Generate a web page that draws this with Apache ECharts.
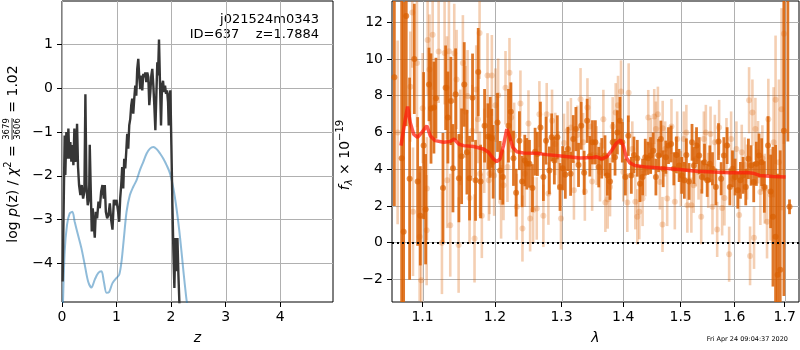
<!DOCTYPE html>
<html><head><meta charset="utf-8">
<script src="https://cdn.jsdelivr.net/npm/echarts@6/dist/echarts.min.js"></script>
<style>html,body{margin:0;padding:0;background:#fff}#c{width:800px;height:350px}</style>
</head><body><div id="c"></div><script>
// ---------- left panel: log p(z) ----------
const zTicks = [0, 1, 2, 3, 4];
const logpTicks = [-4, -3, -2, -1, 0, 1];
const zDark = [0.012,0.031,0.049,0.061,0.080,0.098,0.117,0.135,0.153,0.172,0.190,0.209,0.227,0.245,0.264,0.276,0.294,0.313,0.337,0.362,0.387,0.411,0.429,0.448,0.472,0.497,0.509,0.528,0.546,0.564,0.583,0.601,0.620,0.644,0.669,0.693,0.718,0.742,0.767,0.785,0.804,0.828,0.853,0.877,0.902,0.926,0.951,0.975,1.000,1.025,1.049,1.067,1.086,1.104,1.123,1.141,1.160,1.178,1.196,1.215,1.233,1.252,1.270,1.288,1.307,1.325,1.344,1.362,1.380,1.399,1.417,1.436,1.454,1.472,1.491,1.509,1.528,1.546,1.564,1.583,1.601,1.620,1.638,1.656,1.675,1.693,1.712,1.730,1.748,1.761,1.779,1.798,1.816,1.834,1.853,1.871,1.890,1.908,1.926,1.945,1.957,1.969,1.988,2.006,2.025,2.043,2.061,2.080,2.098,2.117,2.135,2.153,2.175];
const logpDark = [-4.41,-2.67,-1.08,-1.98,-1.00,-1.61,-0.92,-1.61,-1.23,-1.68,-1.30,-1.76,-0.92,-1.68,-1.45,-0.81,-1.80,-2.21,-2.44,-2.21,-2.52,-2.36,-0.14,-2.21,-2.67,-2.52,-1.29,-2.36,-3.27,-2.74,-3.12,-3.41,-2.82,-2.97,-2.59,-2.74,-2.36,-2.21,-2.52,-2.21,-2.82,-2.97,-2.89,-2.63,-3.01,-3.23,-2.55,-2.67,-2.55,-2.78,-3.05,-2.52,-2.21,-1.80,-2.29,-1.61,-1.83,-1.45,-1.04,-1.38,-0.85,-0.70,-0.39,-0.24,-0.58,-0.24,0.06,-0.17,0.44,0.67,0.25,-0.02,0.29,-0.05,0.33,0.25,0.36,0.14,0.36,0.25,-0.39,-0.09,0.29,0.44,0.06,-0.39,-0.96,-0.17,0.59,0.29,1.11,0.06,-0.85,0.06,0.17,-0.09,0.06,-0.13,-0.05,-0.32,-0.85,-0.17,-0.05,-1.30,-2.67,-3.73,-4.56,-3.42,-4.18,-3.42,-4.26,-4.90,-5.6];
const zBlue = [0.005,0.018,0.049,0.092,0.141,0.190,0.233,0.294,0.356,0.417,0.479,0.540,0.601,0.663,0.724,0.767,0.816,0.865,0.926,1.000,1.049,1.092,1.135,1.184,1.245,1.307,1.368,1.429,1.491,1.552,1.613,1.675,1.736,1.798,1.859,1.920,1.982,2.043,2.104,2.166,2.227,2.276,2.301,2.33];
const logpBlue = [-5.6,-4.90,-3.73,-3.12,-2.86,-2.82,-3.05,-3.35,-3.65,-4.03,-4.41,-4.55,-4.37,-4.22,-4.18,-4.41,-4.67,-4.65,-4.45,-4.33,-4.26,-3.95,-3.42,-2.82,-2.44,-2.25,-2.10,-1.87,-1.68,-1.49,-1.38,-1.34,-1.39,-1.49,-1.61,-1.76,-1.95,-2.29,-2.78,-3.42,-4.18,-4.75,-5.0,-5.4];

// ---------- right panel: spectrum ----------
const lamTicks = [1.1, 1.2, 1.3, 1.4, 1.5, 1.6, 1.7];
const fTicks = [-2, 0, 2, 4, 6, 8, 10, 12];
const lamModel = [1.0718,1.0774,1.0804,1.0838,1.0882,1.0934,1.0991,1.1057,1.1102,1.1168,1.1281,1.1371,1.1426,1.1486,1.1555,1.1694,1.1835,1.1907,1.1978,1.2026,1.2074,1.2123,1.2172,1.2210,1.2259,1.2318,1.2417,1.2617,1.2770,1.3028,1.3291,1.3505,1.3559,1.3641,1.3723,1.3806,1.3889,1.3956,1.4001,1.4057,1.4113,1.4198,1.4398,1.4689,1.4985,1.5288,1.5597,1.5912,1.6234,1.6364,1.6495,1.6761,1.7018];
const fModel = [5.28,6.72,7.41,6.54,5.91,5.73,6.00,6.36,5.82,5.55,5.46,5.50,5.64,5.37,5.28,5.23,5.10,4.92,4.56,4.41,4.56,5.28,6.18,5.82,5.19,4.95,4.88,4.86,4.79,4.70,4.61,4.63,4.67,4.56,4.67,5.01,5.42,5.59,5.28,4.59,4.34,4.20,4.11,4.05,3.98,3.89,3.84,3.80,3.82,3.78,3.66,3.60,3.57];

// dark (strong) spectrum points
const lamA = [1.0633,1.0727,1.0752,1.0786,1.0830,1.0891,1.0935,1.0970,1.1014,1.1040,1.1085,1.1112,1.1151,1.1178,1.1273,1.1309,1.1340,1.1381,1.1409,1.1446,1.1491,1.1528,1.1565,1.1602,1.1639,1.1681,1.1723,1.1761,1.1794,1.1851,1.1898,1.1932,1.1974,
1.1955,1.2037,1.2075,1.2114,1.2196,1.2231,1.2270,1.2309,1.2358,1.2398,1.2438,1.2468,1.2508,1.2553,1.2593,1.2628,1.2674,1.2719,1.2760,1.2811,1.2847,1.2888,1.2934,1.2976,1.3017,1.3059,1.3100,1.3142,1.3184,1.3226,1.3268,1.3311,1.3358,1.3406,1.3449,1.3492,
1.3539,1.3594,1.3643,1.3697,1.3736,1.3780,1.3824,1.3863,1.3902,1.3946,1.3985,1.4036,1.4086,1.4137,1.4182,1.4239,1.4285,1.4330,1.4376,1.4422,1.4468,1.4514,1.4561,1.4607,1.4649,1.4689,1.4736,1.4783,1.4830,1.4878,1.4925,1.4973,1.5020,1.5068,1.5104,1.5153,1.5207,
1.5241,1.5290,1.5339,1.5388,1.5437,1.5487,1.5536,1.5586,1.5649,1.5699,1.5749,1.5800,1.5863,1.5914,1.5965,1.6016,1.6067,1.6118,1.6170,1.6222,1.6274,1.6326,1.6378,1.6430,1.6483,1.6535,1.6588,1.6662,1.6714,1.6761,1.6814,1.6855,1.6908,1.6983,1.7064,1.7098];
const fA = [9.0,4.59,0.59,12.34,3.48,10.0,3.33,1.46,5.28,1.82,8.61,7.30,7.35,7.86,2.97,8.43,6.81,7.71,4.05,8.07,3.51,4.70,8.61,4.92,3.51,7.89,3.39,9.28,3.33,6.36,5.78,5.73,4.40,
5.68,6.54,3.93,3.57,6.36,7.12,4.59,2.72,5.55,3.33,4.47,4.29,4.29,2.97,4.95,4.83,6.27,3.57,5.55,3.93,5.73,4.47,5.73,3.03,4.05,3.69,5.10,3.75,5.64,6.18,4.23,6.36,3.80,6.63,4.70,5.46,
5.46,4.11,4.59,4.74,3.66,3.33,5.46,4.65,6.00,6.63,5.46,3.57,5.82,3.66,4.77,4.59,3.21,3.57,4.65,4.59,4.74,5.00,3.57,4.74,5.64,4.02,4.65,5.28,5.37,4.02,4.77,4.20,3.66,3.39,4.77,3.33,5.46,
4.20,5.28,4.74,3.57,4.38,3.39,4.29,4.02,3.03,5.50,3.48,4.74,5.28,3.03,4.02,3.57,2.85,3.39,3.66,3.03,4.56,4.20,3.30,4.29,4.74,4.38,3.03,5.28,2.79,1.41,0.32,-1.75,-1.48,6.09,16.0,1.95];
const eA = [7.0,9.0,12.5,6.0,5.5,3.0,3.5,2.7,4.0,3.0,2.0,3.0,2.5,2.2,3.0,2.3,2.5,2.4,2.4,2.5,2.4,2.6,2.3,2.3,2.3,2.4,2.2,2.4,2.0,2.0,1.8,2.2,2.0,
1.6,1.6,1.6,1.5,2.0,1.6,1.5,1.3,1.6,1.4,1.4,1.4,1.3,1.3,1.3,1.2,1.4,1.3,1.3,1.3,1.3,1.3,1.2,1.3,1.2,1.3,1.2,1.2,1.3,1.2,1.2,1.3,1.2,1.2,1.1,1.2,
1.2,1.1,1.1,1.1,1.1,1.0,1.1,1.0,1.2,1.3,1.1,1.0,1.1,1.0,1.0,1.0,1.0,1.0,1.0,0.9,1.0,1.0,1.0,0.9,1.0,1.0,0.9,1.0,1.0,0.9,1.0,0.9,1.0,1.0,0.9,1.0,1.0,
1.0,1.0,1.0,0.9,1.0,0.9,1.0,0.9,1.0,1.0,0.9,1.0,1.0,1.0,1.0,1.0,1.0,1.0,1.0,1.0,1.1,1.1,1.1,1.2,1.2,1.3,1.4,1.6,2.0,3.8,5.0,5.5,6.5,9.0,10.5,0.4];

// light (faint) spectrum points
const lamB = [1.0675,1.0839,1.0865,1.0874,1.0926,1.0961,1.0983,1.1001,1.1054,1.1058,1.1067,1.1092,1.1134,1.1214,1.1259,1.1295,1.1327,1.1330,1.1354,1.1372,1.1427,1.1459,1.1487,1.1509,1.1546,1.1583,1.1611,1.1639,1.1677,1.1709,1.1733,1.1756,1.1780,1.1785,1.1812,1.1846,1.1893,1.1912,1.1922,1.1955,1.1988,
1.2007,1.2046,1.2089,1.2124,1.2153,1.2182,1.2211,1.2235,1.2280,1.2319,1.2373,1.2403,1.2438,1.2493,1.2518,1.2563,1.2618,1.2658,1.2719,1.2770,1.2796,1.2852,1.2903,1.2950,1.2991,1.3038,1.3095,1.3147,1.3195,1.3247,1.3300,1.3342,1.3369,1.3411,1.3449,1.3487,
1.3561,1.3615,1.3670,1.3703,1.3741,1.3780,1.3824,1.3874,1.3913,1.3963,1.4002,1.4069,1.4092,1.4154,1.4205,1.4239,1.4273,1.4330,1.4376,1.4428,1.4474,1.4532,1.4561,1.4596,1.4631,1.4677,1.4680,1.4724,1.4760,1.4836,1.4896,1.4938,1.5004,1.5057,1.5104,1.5122,1.5195,1.5237,
1.5278,1.5327,1.5376,1.5425,1.5462,1.5506,1.5549,1.5586,1.5630,1.5674,1.5711,1.5768,1.5812,1.5850,1.5901,1.5939,1.5978,1.6041,1.6093,1.6144,1.6202,1.6248,1.6287,1.6306,1.6352,1.6384,1.6411,1.6463,1.6509,1.6549,1.6595,1.6642,1.6668,1.6714,1.6774,1.6814,1.6881,1.6935,1.6983];
const fB = [6.0,8.49,12.52,1.68,9.78,0.32,-2.05,7.32,0.68,2.94,11.03,9.42,11.32,10.40,0.00,10.32,8.43,3.39,10.41,0.95,10.30,8.88,-0.13,5.73,9.78,7.12,7.98,2.43,6.09,0.23,8.34,6.72,11.41,3.75,1.46,5.00,9.10,3.39,3.75,9.10,3.66,
7.48,8.02,2.22,3.12,8.43,4.11,9.24,6.81,5.82,1.95,7.57,0.77,3.75,6.49,1.32,1.77,1.86,6.99,1.46,6.99,2.67,6.63,5.37,4.47,1.32,5.42,6.09,6.27,2.85,5.86,7.80,5.46,2.79,7.35,6.32,3.33,
4.74,3.84,6.72,2.18,2.36,3.03,6.32,7.08,7.48,8.22,3.84,2.18,8.16,5.10,2.22,1.41,1.68,2.40,4.02,6.81,5.28,6.86,6.18,6.99,3.30,0.99,6.22,5.10,2.40,6.32,2.22,5.64,3.48,5.64,6.00,2.04,2.04,3.12,
4.56,3.84,1.41,5.64,6.00,3.39,5.91,1.95,5.46,0.72,6.27,1.89,2.43,5.28,-0.63,5.64,3.48,5.10,1.50,4.92,4.23,3.84,7.75,-0.72,7.08,0.27,6.18,4.92,2.76,4.59,2.94,1.14,6.72,2.61,5.46,7.77,4.38,7.26,11.37];
const eB = [5.0,3.0,3.0,3.5,3.5,3.5,3.5,3.0,3.0,2.8,3.0,3.0,3.0,2.8,2.8,2.8,2.8,2.6,2.8,2.8,2.7,2.7,2.6,2.6,2.6,2.5,2.5,2.5,2.5,2.4,2.4,2.4,2.5,2.3,2.3,2.3,2.3,2.2,2.2,2.2,2.2,
2.0,2.0,2.0,1.9,2.0,1.9,1.9,1.9,1.8,1.8,1.8,1.8,1.8,1.8,1.8,1.8,1.7,1.8,1.7,1.7,1.7,1.7,1.7,1.6,1.7,1.6,1.6,1.6,1.6,1.6,1.7,1.6,1.6,1.6,1.6,1.6,
1.6,1.6,1.6,1.6,1.6,1.6,1.6,1.6,1.6,1.7,1.6,1.6,1.6,1.5,1.5,1.5,1.5,1.5,1.5,1.5,1.5,1.5,1.5,1.5,1.5,1.5,1.5,1.5,1.5,1.5,1.5,1.5,1.5,1.5,1.5,1.5,1.5,1.5,
1.5,1.5,1.5,1.5,1.5,1.5,1.5,1.5,1.5,1.5,1.5,1.5,1.5,1.5,1.5,1.5,1.5,1.5,1.5,1.5,1.5,1.5,1.8,1.6,1.8,1.7,1.7,1.7,1.8,1.8,1.9,2.0,2.2,2.5,3.0,3.5,4.5,5.5,6.0];

// ---------- axis ranges ----------
const Z_RANGE = [0, 4.97];
const LOGP_RANGE = [-4.88, 1.99];
const LAM_RANGE = [1.0603, 1.7294];
const F_RANGE = [-3.23, 13.15];

// ---------- helpers ----------
const FONT = '"DejaVu Sans", sans-serif';
const ctx = document.createElement('canvas').getContext('2d');
function fontStr(size, it) { return (it ? 'italic ' : '') + size + 'px ' + FONT; }
function measure(t, size, it) { ctx.font = fontStr(size, it); return ctx.measureText(t).width; }
function rotatedLabel(cx, cy, pieces) {
  const widths = pieces.map(p => p.num ? Math.max(measure(p.num, p.size), measure(p.den, p.size)) + 2 : measure(p.t, p.size, p.it));
  const W = widths.reduce((a, b) => a + b, 0);
  let x = -W / 2; const children = [];
  pieces.forEach((p, i) => {
    const w = widths[i];
    if (p.num) {
      const mx = x + w / 2;
      children.push({type: 'text', x: mx, y: p.axis - 0.8, style: {text: p.num, font: fontStr(p.size), fill: '#000', align: 'center', verticalAlign: 'bottom', textAlign: 'center', textVerticalAlign: 'bottom'}});
      children.push({type: 'line', shape: {x1: x + 1, y1: p.axis, x2: x + w - 1, y2: p.axis}, style: {stroke: '#000', lineWidth: 0.8}});
      children.push({type: 'text', x: mx, y: p.axis + 0.8, style: {text: p.den, font: fontStr(p.size), fill: '#000', align: 'center', verticalAlign: 'top', textAlign: 'center', textVerticalAlign: 'top'}});
    } else {
      children.push({type: 'text', x: x, y: p.dy || 0, style: {text: p.t, font: fontStr(p.size, p.it), fill: '#000', align: 'left', verticalAlign: 'middle', textAlign: 'left', textVerticalAlign: 'middle'}});
    }
    x += w;
  });
  return {type: 'group', x: cx, y: cy, rotation: Math.PI / 2, children: children};
}
function minusFmt(v) { return v < 0 ? '\u2212' + (-v) : String(v); }
function barRenderer(color, width) {
  return function (params, api) {
    const x = api.value(0), y = api.value(1), e = api.value(2);
    const a = api.coord([x, y - e]), b = api.coord([x, y + e]);
    return {type: 'line', shape: {x1: a[0], y1: a[1], x2: b[0], y2: b[1]}, style: {stroke: color, lineWidth: width}};
  };
}
const DARK = 'rgba(217,95,2,0.85)';
const LIGHT = 'rgba(217,95,2,0.30)';
const GRIDCOL = '#b0b0b0';
const labelStyle = {color: '#000', fontSize: 14, fontFamily: FONT};
const tickStyle = {show: true, length: 5, inside: false, lineStyle: {color: '#000', width: 1}};
const gridLine = {show: true, lineStyle: {color: GRIDCOL, width: 1}};
const noLine = {show: false, onZero: false};

const lnTicks = lamTicks.map(v => Math.log(v));
const darkData = lamA.map((l, i) => [Math.log(l), fA[i], eA[i]]);
const lightData = lamB.map((l, i) => [Math.log(l), fB[i], eB[i]]);

// vertical grid lines at the x tick values, placed by the axis scale
function vGrid(xi, vals, yr) {
  return {type: 'custom', xAxisIndex: xi, yAxisIndex: xi, data: vals.map(v => [v, yr[0], yr[1]]), z: 1, silent: true, clip: false,
    renderItem: function (params, api) {
      const a = api.coord([api.value(0), api.value(1)]);
      const b = api.coord([api.value(0), api.value(2)]);
      const x = Math.round(a[0]) + 0.5;
      return {type: 'line', shape: {x1: x, y1: a[1], x2: x, y2: b[1]}, style: {stroke: GRIDCOL, lineWidth: 1}};
    }};
}

const option = {
  animation: false,
  backgroundColor: '#fff',
  grid: [
    {left: 62, top: 1, width: 271, height: 303, show: true, borderColor: '#000', borderWidth: 1, backgroundColor: 'transparent'},
    {left: 392, top: 1, width: 407, height: 303, show: true, borderColor: '#000', borderWidth: 1, backgroundColor: 'transparent'}
  ],
  xAxis: [
    {type: 'value', gridIndex: 0, min: Z_RANGE[0], max: Z_RANGE[1],
     axisLine: noLine, axisTick: Object.assign({customValues: zTicks}, tickStyle),
     axisLabel: Object.assign({customValues: zTicks, margin: 8}, labelStyle), splitLine: {show: false},
     name: 'z', nameLocation: 'middle', nameGap: 29, nameTextStyle: {fontSize: 14, fontStyle: 'italic', fontFamily: FONT, color: '#000'}},
    {type: 'value', gridIndex: 1, min: Math.log(LAM_RANGE[0]), max: Math.log(LAM_RANGE[1]),
     axisLine: noLine, axisTick: Object.assign({customValues: lnTicks}, tickStyle),
     axisLabel: Object.assign({customValues: lnTicks, margin: 8, formatter: v => Math.exp(v).toFixed(1)}, labelStyle), splitLine: {show: false},
     name: '\u03bb', nameLocation: 'middle', nameGap: 29, nameTextStyle: {fontSize: 14, fontStyle: 'italic', fontFamily: FONT, color: '#000'}}
  ],
  yAxis: [
    {type: 'value', gridIndex: 0, min: LOGP_RANGE[0], max: LOGP_RANGE[1],
     axisLine: noLine, axisTick: Object.assign({customValues: logpTicks}, tickStyle),
     axisLabel: Object.assign({customValues: logpTicks, margin: 9, formatter: minusFmt}, labelStyle), splitLine: gridLine},
    {type: 'value', gridIndex: 1, min: F_RANGE[0], max: F_RANGE[1],
     axisLine: noLine, axisTick: Object.assign({customValues: fTicks}, tickStyle),
     axisLabel: Object.assign({customValues: fTicks, margin: 9, formatter: minusFmt}, labelStyle), splitLine: gridLine}
  ],
  series: [
    vGrid(0, zTicks, LOGP_RANGE),
    vGrid(1, lnTicks, F_RANGE),
    {type: 'line', xAxisIndex: 0, yAxisIndex: 0, data: zBlue.map((z, i) => [z, logpBlue[i]]), showSymbol: false, smooth: 0.3,
     lineStyle: {color: 'rgba(31,119,180,0.5)', width: 2}, clip: true, z: 2},
    {type: 'line', xAxisIndex: 0, yAxisIndex: 0, data: zDark.map((z, i) => [z, logpDark[i]]), showSymbol: false,
     lineStyle: {color: '#363636', width: 2.4}, clip: true, z: 3},
    {type: 'custom', xAxisIndex: 1, yAxisIndex: 1, data: lightData, renderItem: barRenderer(LIGHT, 2.6), clip: true, z: 2},
    {type: 'scatter', xAxisIndex: 1, yAxisIndex: 1, data: lightData.map(d => [d[0], d[1]]), symbolSize: 6, itemStyle: {color: LIGHT}, clip: true, z: 2},
    {type: 'custom', xAxisIndex: 1, yAxisIndex: 1, data: darkData, renderItem: barRenderer(DARK, 2.8), clip: true, z: 3},
    {type: 'scatter', xAxisIndex: 1, yAxisIndex: 1, data: darkData.map(d => [d[0], d[1]]), symbolSize: 6, itemStyle: {color: DARK}, clip: true, z: 3},
    {type: 'line', xAxisIndex: 1, yAxisIndex: 1, data: lamModel.map((l, i) => [Math.log(l), fModel[i]]), showSymbol: false,
     lineStyle: {color: 'rgba(255,25,10,0.72)', width: 3.5}, clip: true, z: 4,
     markLine: {silent: true, symbol: 'none', label: {show: false}, data: [{yAxis: 0}],
       lineStyle: {color: '#000', type: [2, 3], width: 2}}}
  ],
  graphic: [
    {type: 'text', x: 319, y: 20, style: {text: 'j021524m0343', font: '13px ' + FONT, fill: '#000', align: 'right', verticalAlign: 'middle', textAlign: 'right', textVerticalAlign: 'middle'}},
    {type: 'text', x: 319, y: 35, style: {text: 'ID=637    z=1.7884', font: '13px ' + FONT, fill: '#000', align: 'right', verticalAlign: 'middle', textAlign: 'right', textVerticalAlign: 'middle'}},
    {type: 'text', x: 788, y: 339, style: {text: 'Fri Apr 24 09:04:37 2020', font: '6.5px ' + FONT, fill: '#000', align: 'right', verticalAlign: 'middle', textAlign: 'right', textVerticalAlign: 'middle'}},
    rotatedLabel(13, 154, [
      {t: 'log ', size: 14}, {t: 'p', size: 14, it: true}, {t: '(z) / ', size: 14}, {t: '\u03c7', size: 14, it: true},
      {t: '2', size: 10, dy: -5}, {t: ' = ', size: 14}, {num: '3679', den: '3606', size: 8.5, axis: -1}, {t: ' = 1.02', size: 14}
    ]),
    rotatedLabel(345, 155, [
      {t: 'f', size: 14, it: true}, {t: '\u03bb', size: 10, it: true, dy: 4}, {t: ' \u00d7 10', size: 14}, {t: '\u221219', size: 10, dy: -5}
    ])
  ]
};
const chart = echarts.init(document.getElementById('c'), null, {renderer: 'canvas'});
chart.setOption(option);
</script></body></html>
